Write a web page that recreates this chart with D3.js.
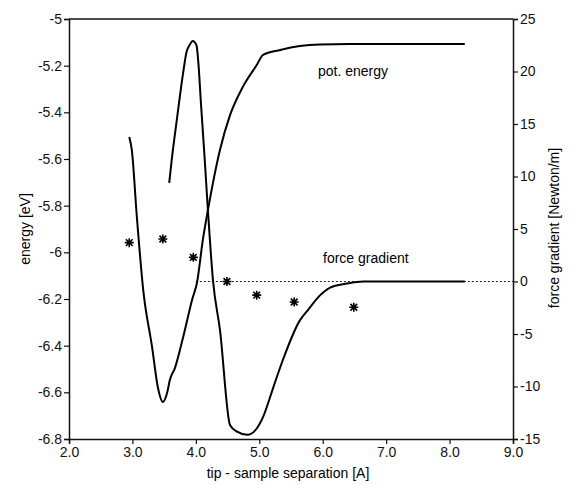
<!DOCTYPE html>
<html>
<head>
<meta charset="utf-8">
<script src="https://cdn.jsdelivr.net/npm/d3@7"></script>
<style>
  body { margin: 0; background: #fff; }
  svg { font-family: "Liberation Sans", Arial, sans-serif; }
</style>
</head>
<body>
<div id="chart"></div>
<script>
// separation [A] vs potential energy [eV] (left axis)
var energyX = [2.95, 2.99, 3.07, 3.17, 3.31, 3.40, 3.48, 3.55, 3.59, 3.67, 3.80, 3.94, 4.02, 4.11, 4.19, 4.38, 4.54, 4.74, 4.96, 5.06, 5.33, 5.64, 5.96, 6.43, 8.24];
var energyY = [-5.506, -5.561, -5.849, -6.161, -6.406, -6.577, -6.641, -6.599, -6.547, -6.496, -6.363, -6.204, -6.127, -5.947, -5.819, -5.561, -5.411, -5.291, -5.197, -5.154, -5.133, -5.116, -5.109, -5.107, -5.107];

// separation [A] vs force gradient [N/m] (right axis)
var forceX = [3.58, 3.62, 3.70, 3.80, 3.855, 3.90, 3.95, 4.01, 4.04, 4.08, 4.14, 4.19, 4.27, 4.38, 4.54, 4.65, 4.81, 4.96, 5.06, 5.22, 5.37, 5.64, 5.77, 5.96, 6.11, 6.38, 6.64, 8.24];
var forceY = [9.4, 11.6, 15.4, 19.9, 21.9, 22.5, 22.9, 22.5, 20.8, 17.0, 11.6, 6.8, 0.1, -4.6, -13.7, -14.3, -14.6, -14.0, -12.9, -10.1, -7.5, -3.7, -2.7, -1.3, -0.6, -0.2, 0, 0];

// asterisk points (right axis)
var starX = [2.95, 3.48, 3.96, 4.49, 4.96, 5.55, 6.49];
var starY = [3.7, 4.05, 2.3, 0.0, -1.3, -1.95, -2.45];

var xTicks = [2, 3, 4, 5, 6, 7, 8, 9];
var yLeftTicks = [-5, -5.2, -5.4, -5.6, -5.8, -6, -6.2, -6.4, -6.6, -6.8];
var yRightTicks = [25, 20, 15, 10, 5, 0, -5, -10, -15];

var W = 573, H = 485;
var m = {left: 69, right: 60, top: 19, bottom: 46};
var iw = W - m.left - m.right, ih = H - m.top - m.bottom;

var svg = d3.select('#chart').append('svg')
  .attr('width', W).attr('height', H);
var g = svg.append('g').attr('transform', 'translate(' + m.left + ',' + m.top + ')');

var x = d3.scaleLinear().domain([2, 9]).range([0, iw]);
var yL = d3.scaleLinear().domain([-6.8, -5]).range([ih, 0]);
var yR = d3.scaleLinear().domain([-15, 25]).range([ih, 0]);

// frame top line
g.append('line').attr('x1', 0).attr('x2', iw).attr('y1', 0).attr('y2', 0)
  .attr('stroke', '#111').attr('stroke-width', 1.5);

var ax = g.append('g').attr('transform', 'translate(0,' + ih + ')')
  .call(d3.axisBottom(x).tickValues(xTicks).tickFormat(d3.format('.1f')).tickSize(5).tickPadding(3));
var al = g.append('g')
  .call(d3.axisLeft(yL).tickValues(yLeftTicks).tickFormat(function(d) { return String(+d.toFixed(1)); }).tickSize(5).tickPadding(2));
var ar = g.append('g').attr('transform', 'translate(' + iw + ',0)')
  .call(d3.axisRight(yR).tickValues(yRightTicks).tickFormat(function(d) { return String(d); }).tickSize(5).tickPadding(2));

[ax, al, ar].forEach(function(a) {
  a.select('.domain').attr('stroke', '#111').attr('stroke-width', 1.5);
  a.selectAll('.tick line').attr('stroke', '#111').attr('stroke-width', 1.2);
  a.selectAll('.tick text').attr('fill', '#111').style('font-size', '14px');
});

// zero line of force gradient
g.append('line')
  .attr('x1', x(4.0)).attr('x2', iw).attr('y1', yR(0)).attr('y2', yR(0))
  .attr('stroke', '#222').attr('stroke-width', 1).attr('stroke-dasharray', '2,2');

var lineE = d3.line()
  .x(function(d, i) { return x(energyX[i]); })
  .y(function(d) { return yL(d); })
  .curve(d3.curveMonotoneX);
var lineF = d3.line()
  .x(function(d, i) { return x(forceX[i]); })
  .y(function(d) { return yR(d); })
  .curve(d3.curveMonotoneX);

g.append('path').datum(energyY).attr('d', lineE)
  .attr('fill', 'none').attr('stroke', '#000').attr('stroke-width', 2).attr('stroke-linejoin', 'round');
g.append('path').datum(forceY).attr('d', lineF)
  .attr('fill', 'none').attr('stroke', '#000').attr('stroke-width', 2).attr('stroke-linejoin', 'round');

// asterisks
var r = 4.5, rd = r * 0.75;
var star = 'M' + (-r) + ',0L' + r + ',0M0,' + (-r) + 'L0,' + r +
  'M' + (-rd) + ',' + (-rd) + 'L' + rd + ',' + rd +
  'M' + (-rd) + ',' + rd + 'L' + rd + ',' + (-rd);
g.selectAll('.star').data(starY).enter().append('path')
  .attr('class', 'star')
  .attr('transform', function(d, i) { return 'translate(' + x(starX[i]) + ',' + yR(d) + ')'; })
  .attr('d', star)
  .attr('stroke', '#000').attr('stroke-width', 1.6).attr('fill', 'none');

// labels
g.append('text').attr('x', 249).attr('y', 57).style('font-size', '14px').text('pot. energy');
g.append('text').attr('x', 254).attr('y', 244).style('font-size', '14px').text('force gradient');

svg.append('text').attr('x', 288).attr('y', 478).attr('text-anchor', 'middle')
  .style('font-size', '14px').text('tip - sample separation [A]');
svg.append('text').attr('transform', 'translate(30,229) rotate(-90)').attr('text-anchor', 'middle')
  .style('font-size', '14px').text('energy [eV]');
svg.append('text').attr('transform', 'translate(559,228) rotate(-90)').attr('text-anchor', 'middle')
  .style('font-size', '14px').text('force gradient [Newton/m]');
</script>
</body>
</html>
